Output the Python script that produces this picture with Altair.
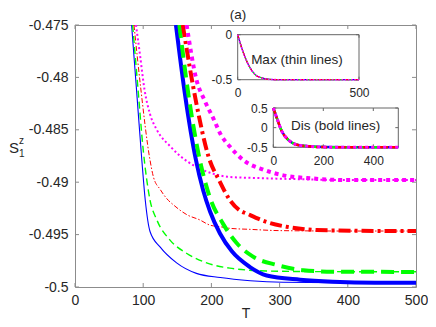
import altair as alt
import pandas as pd

# ---------------- data ----------------
# main panel (S_1^z vs T); thin lines = Max, bold lines = Dis
blue_thin_T = [83, 90, 98, 103, 110, 125, 149, 178, 213, 257, 305, 400, 500]
blue_thin_S = [-0.475, -0.4810, -0.4879, -0.4917, -0.4947, -0.4962, -0.4977, -0.4987, -0.4991, -0.4994, -0.49955, -0.4996, -0.4996]

green_thin_T = [84.5, 92, 100, 110, 120, 139, 164, 193, 227, 281, 350, 500]
green_thin_S = [-0.475, -0.4808, -0.4869, -0.4917, -0.4936, -0.4955, -0.4968, -0.4977, -0.4982, -0.49847, -0.49853, -0.49855]

red_thin_T = [86.5, 96, 110, 115, 125, 135, 145, 164, 183, 198, 213, 227, 257, 300, 400, 500]
red_thin_S = [-0.475, -0.4808, -0.4879, -0.4895, -0.4907, -0.4916, -0.4922, -0.4931, -0.4936, -0.4941, -0.49425, -0.4944, -0.4945, -0.49462, -0.49466, -0.49466]

magenta_thin_T = [89.4, 95, 102, 110, 120, 140, 156, 174, 203, 227, 266, 320, 400, 500]
magenta_thin_S = [-0.475, -0.4777, -0.4812, -0.4835, -0.4850, -0.4866, -0.4876, -0.4884, -0.4892, -0.4895, -0.4896, -0.4897, -0.4898, -0.4898]

blue_bold_T = [148, 161, 177.4, 188, 198, 212.6, 230, 256.6, 281, 330, 378, 440, 500]
blue_bold_S = [-0.475, -0.4815, -0.4879, -0.4908, -0.4928, -0.4949, -0.4966, -0.4981, -0.4989, -0.4993, -0.4995, -0.4996, -0.4996]

green_bold_T = [153, 166, 180.8, 198, 217.4, 237, 261, 296, 335, 378, 500]
green_bold_S = [-0.475, -0.4815, -0.4872, -0.4915, -0.4940, -0.4958, -0.4971, -0.4979, -0.4984, -0.49854, -0.49856]

red_bold_T = [158, 178, 196, 212, 227, 242, 252, 281, 310, 354, 420, 500]
red_bold_S = [-0.475, -0.4825, -0.4876, -0.4899, -0.4917, -0.4927, -0.4930, -0.4938, -0.49425, -0.49456, -0.49464, -0.49466]

magenta_bold_T = [163.7, 178, 190, 202, 215, 227, 247, 276, 310, 340, 400, 500]
magenta_bold_S = [-0.475, -0.4802, -0.4822, -0.4838, -0.4856, -0.4866, -0.4879, -0.4888, -0.4894, -0.4896, -0.4898, -0.4898]

# insets (full range)
max_inset_T = [0, 17, 44, 72, 100, 130, 170, 300, 500]
max_inset_S = [0, -0.15, -0.333, -0.444, -0.48, -0.496, -0.5, -0.5, -0.5]
dis_inset_T = [0, 14, 34, 60, 94, 140, 200, 300, 500]
dis_inset_S = [0.5, 0.25, -0.09, -0.31, -0.435, -0.475, -0.495, -0.5, -0.5]

# axes / ticks
x_domain = [0, 500]
y_domain = [-0.5, -0.475]
x_ticks = [0, 100, 200, 300, 400, 500]
y_ticks = [-0.5, -0.495, -0.49, -0.485, -0.48, -0.475]
max_x_domain, max_y_domain = [0, 500], [-0.5, 0]
max_x_ticks, max_y_ticks = [0, 500], [-0.5, 0]
dis_x_domain, dis_y_domain = [0, 500], [-0.5, 0.5]
dis_x_ticks, dis_y_ticks = [0, 200, 400], [-0.5, 0, 0.5]

# ---------------- styling ----------------
W, H = 341, 262
FONT = "Liberation Sans"
TXT = "#262626"
FRAME = "#8c8c8c"
FMT = "~r"
LBL = "replace(datum.label, '\u2212', '-')"

BLUE, GREEN, RED, MAGENTA = "#0000ff", "#00ff00", "#ff0000", "#ff00ff"

x_scale = alt.Scale(domain=x_domain, nice=False, zero=False)
y_scale = alt.Scale(domain=y_domain, nice=False, zero=False)

x_axis = alt.Axis(values=x_ticks, format=FMT, labelExpr=LBL, ticks=False, tickSize=0,
                  domain=False, grid=False, labelFlush=False, labelFont=FONT,
                  labelFontSize=14, labelColor=TXT, labelPadding=6, title="T",
                  titleFont=FONT, titleFontSize=14, titleFontWeight="normal",
                  titleColor=TXT, titleBaseline="middle", titleY=26)
y_axis = alt.Axis(values=y_ticks, format=FMT, labelExpr=LBL, ticks=False, tickSize=0,
                  domain=False, grid=False, labelFlush=False, labelFont=FONT,
                  labelFontSize=14, labelColor=TXT, labelPadding=7, title=None)

X = alt.X("T:Q", scale=x_scale, axis=x_axis)
Y = alt.Y("S:Q", scale=y_scale, axis=y_axis)


def line(Ts, Ss, color, width, dash, xenc, yenc):
    df = pd.DataFrame({"T": Ts, "S": Ss})
    kw = dict(color=color, strokeWidth=width, strokeCap="butt", clip=True,
              interpolate="monotone")
    if dash:
        kw["strokeDash"] = dash
    return alt.Chart(df).mark_line(**kw).encode(x=xenc, y=yenc)


main_lines = [
    line(blue_thin_T, blue_thin_S, BLUE, 1.1, None, X, Y),
    line(green_thin_T, green_thin_S, GREEN, 1.4, [7, 4], X, Y),
    line(red_thin_T, red_thin_S, RED, 1.0, [5, 2, 1.5, 2], X, Y),
    line(magenta_thin_T, magenta_thin_S, MAGENTA, 2.0, [2, 2.5], X, Y),
    line(blue_bold_T, blue_bold_S, BLUE, 4, None, X, Y),
    line(green_bold_T, green_bold_S, GREEN, 4, [13, 7], X, Y),
    line(red_bold_T, red_bold_S, RED, 4, [12, 4, 3, 4], X, Y),
    line(magenta_bold_T, magenta_bold_S, MAGENTA, 4, [4, 4], X, Y),
]


def inward_ticks(xenc, yenc, xvals, yvals, left, right, top, bottom, size, color):
    xt = pd.DataFrame({"T": xvals})
    yt = pd.DataFrame({"S": yvals})
    return [
        alt.Chart(xt).mark_rule(color=color).encode(x=xenc, y=alt.value(bottom), y2=alt.value(bottom - size)),
        alt.Chart(xt).mark_rule(color=color).encode(x=xenc, y=alt.value(top), y2=alt.value(top + size)),
        alt.Chart(yt).mark_rule(color=color).encode(y=yenc, x=alt.value(left), x2=alt.value(left + size)),
        alt.Chart(yt).mark_rule(color=color).encode(y=yenc, x=alt.value(right), x2=alt.value(right - size)),
    ]


tick_layers = inward_ticks(X, Y, x_ticks, y_ticks, 0, W, 0, H, 4, FRAME)


# panel label and y-axis title S_1^z
def txt(s, x, y, size, align="left"):
    return alt.Chart(pd.DataFrame({"t": [s]})).mark_text(
        font=FONT, fontSize=size, color=TXT, align=align, baseline="middle"
    ).encode(x=alt.value(x), y=alt.value(y), text="t:N")


labels = [
    txt("(a)", 163, -10, 13.5, "center"),
    txt("S", -66, 123, 15),
    txt("z", -56, 116, 10),
    txt("1", -56, 129, 10),
]

main = alt.layer(*tick_layers, *main_lines, *labels)


def inset(Ts, Ss, xdom, ydom, xr, yr, xticks, yticks, label, label_xy, thin):
    xs = alt.Scale(domain=xdom, range=xr, nice=False, zero=False)
    ys = alt.Scale(domain=ydom, range=yr, nice=False, zero=False)
    xa = alt.Axis(orient="bottom", offset=yr[0] - H, values=xticks, format=FMT,
                  labelExpr=LBL, ticks=False, tickSize=0, domain=False, grid=False,
                  labelFlush=False, labelFont=FONT, labelFontSize=12, labelColor=TXT,
                  labelPadding=8, title=None)
    ya = alt.Axis(orient="left", offset=-xr[0], values=yticks, format=FMT,
                  labelExpr=LBL, ticks=False, tickSize=0, domain=False, grid=False,
                  labelFlush=False, labelFont=FONT, labelFontSize=12, labelColor=TXT,
                  labelPadding=6, title=None)
    xe = alt.X("T:Q", scale=xs, axis=xa)
    ye = alt.Y("S:Q", scale=ys, axis=ya)
    box = alt.Chart(pd.DataFrame({"T": [xdom[0]], "T2": [xdom[1]],
                                  "S": [ydom[0]], "S2": [ydom[1]]})).mark_rect(
        fill="white", stroke="#666666", strokeWidth=1
    ).encode(x=xe, x2="T2:Q", y=ye, y2="S2:Q")
    ticks = inward_ticks(xe, ye, xticks, yticks, xr[0], xr[1], yr[1], yr[0], 3, "#666666")
    if thin:
        styles = [(BLUE, 1.2, None), (GREEN, 1.2, [5, 3]), (RED, 1.2, [4, 2, 1, 2]),
                  (MAGENTA, 1.6, [1.6, 1.6])]
    else:
        styles = [(BLUE, 2.5, None), (GREEN, 2.5, [6, 4]), (RED, 2.5, [6, 3, 2, 3]),
                  (MAGENTA, 3, [3, 3])]
    lines = [line(Ts, Ss, c, w, d, xe, ye) for c, w, d in styles]
    lab = alt.Chart(pd.DataFrame({"T": [label_xy[0]], "S": [label_xy[1]], "t": [label]})).mark_text(
        font=FONT, fontSize=13.5, color=TXT, align="center", baseline="middle"
    ).encode(x=xe, y=ye, text="t:N")
    return alt.layer(box, *ticks, *lines, lab)


inset_max = inset(max_inset_T, max_inset_S, max_x_domain, max_y_domain,
                  [162.7, 284], [54.7, 9.7], max_x_ticks, max_y_ticks,
                  "Max (thin lines)", (244, -0.284), True)
inset_dis = inset(dis_inset_T, dis_inset_S, dis_x_domain, dis_y_domain,
                  [198.3, 323.3], [122.3, 83], dis_x_ticks, dis_y_ticks,
                  "Dis (bold lines)", (249, 0.05), False)

chart = alt.layer(main, inset_max, inset_dis).resolve_scale(
    x="independent", y="independent"
).properties(
    width=W, height=H,
    autosize=alt.AutoSizeParams(type="none"),
    padding={"left": 67, "top": 17, "right": 12, "bottom": 32},
    background="white",
).configure_view(stroke=FRAME, strokeWidth=1)

chart.save("out.html", embed_options={"renderer": "svg", "actions": False})
